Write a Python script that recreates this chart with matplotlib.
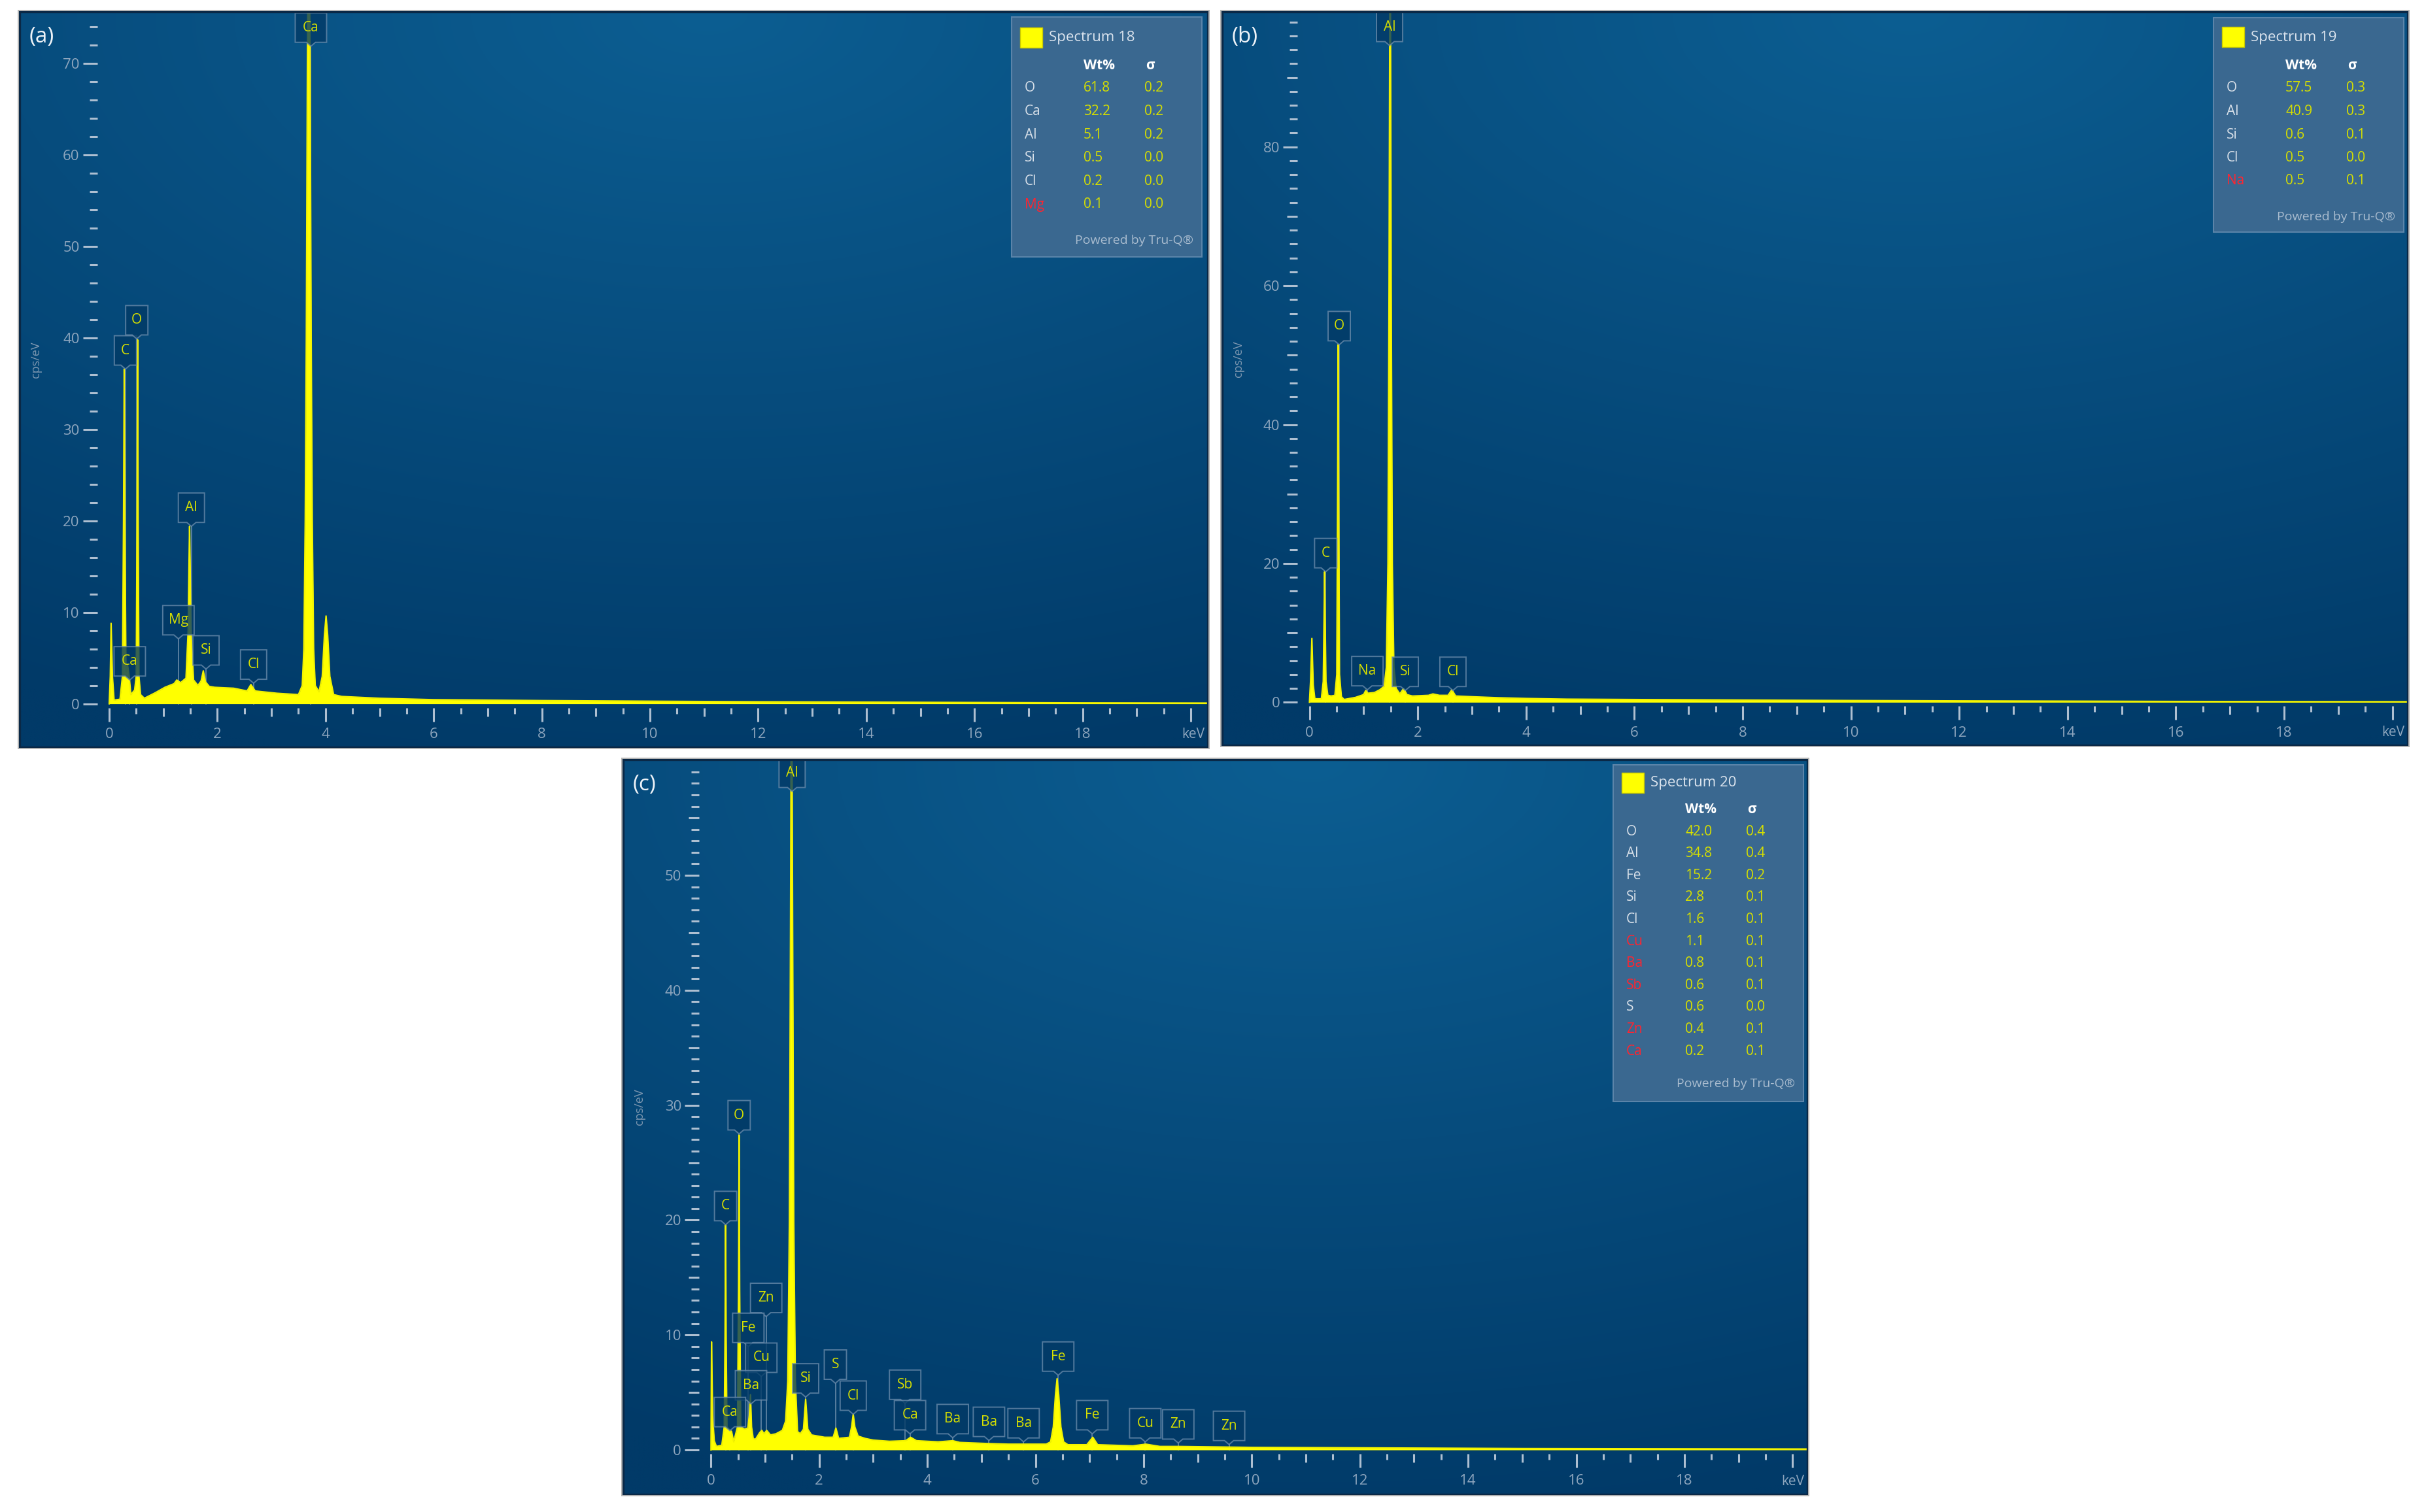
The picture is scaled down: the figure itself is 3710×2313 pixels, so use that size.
import numpy as np
import matplotlib
matplotlib.use('Agg')
import matplotlib.pyplot as plt
import matplotlib.transforms as mtransforms
from matplotlib.patches import Rectangle, Polygon
from matplotlib.ticker import FixedLocator, FuncFormatter

plt.rcParams['font.family'] = ['Open Sans', 'DejaVu Sans']

W, H = 3710, 2313

# ---- spectrum 18 (a) ----
KEV_18 = [0.00, 0.02, 0.035, 0.06, 0.09, 0.20, 0.245, 0.265, 0.278, 0.29, 0.31, 0.34, 0.37, 0.40,
          0.47, 0.50, 0.515, 0.525, 0.535, 0.55, 0.58, 0.65, 0.85, 1.03, 1.20, 1.25, 1.32, 1.42,
          1.46, 1.475, 1.486, 1.497, 1.51, 1.56, 1.64, 1.70, 1.74, 1.78, 1.85, 1.95, 2.30, 2.55,
          2.62, 2.70, 3.10, 3.50, 3.57, 3.60, 3.625, 3.645, 3.665, 3.69, 3.715, 3.735, 3.755, 3.78,
          3.81, 3.88, 3.94, 3.98, 4.01, 4.04, 4.08, 4.15, 4.30, 5.0, 6.0, 7.0, 8.0, 10.0, 12.0,
          14.0, 16.0, 18.0, 20.3]
CPS_18 = [0.0, 3.0, 8.8, 3.0, 0.4, 0.5, 3.0, 20.0, 36.6, 20.0, 3.5, 4.2, 3.0, 1.0,
          1.5, 3.0, 20.0, 39.8, 20.0, 3.0, 1.0, 0.6, 1.2, 1.8, 2.2, 2.6, 2.3, 2.8,
          8.0, 15.0, 19.4, 15.0, 8.0, 2.6, 2.0, 2.5, 3.6, 2.4, 1.9, 1.8, 1.7, 1.4,
          2.1, 1.4, 1.15, 1.0, 2.0, 6.0, 20.0, 40.0, 70.0, 90.0, 70.0, 40.0, 20.0, 6.0,
          2.0, 1.3, 3.0, 7.5, 9.6, 7.5, 3.0, 1.0, 0.8, 0.6, 0.45, 0.4, 0.35, 0.28, 0.22,
          0.18, 0.14, 0.1, 0.08]
PK_18 = ['Ca', 'C', 'O', 'Ca', 'Mg', 'Al', 'Si', 'Cl']
PK_KEV_18 = [3.73, 0.30, 0.51, 0.38, 1.28, 1.52, 1.79, 2.67]
PK_CPS_18 = [71.9, 36.6, 39.9, 2.6, 7.1, 19.4, 3.8, 2.25]
ELEM_18 = ['O', 'Ca', 'Al', 'Si', 'Cl', 'Mg']
WT_18 = [61.8, 32.2, 5.1, 0.5, 0.2, 0.1]
SIG_18 = [0.2, 0.2, 0.2, 0.0, 0.0, 0.0]
RED_18 = ['Mg']

# ---- spectrum 19 (b) ----
KEV_19 = [0.00, 0.02, 0.045, 0.07, 0.10, 0.22, 0.255, 0.27, 0.28, 0.29, 0.305, 0.34, 0.40, 0.47,
          0.505, 0.52, 0.53, 0.54, 0.555, 0.59, 0.64, 0.85, 1.00, 1.04, 1.08, 1.20, 1.30, 1.38,
          1.42, 1.45, 1.47, 1.49, 1.51, 1.53, 1.56, 1.60, 1.67, 1.74, 1.80, 1.90, 2.20, 2.28,
          2.40, 2.56, 2.63, 2.70, 3.00, 3.50, 4.00, 4.75, 6.0, 8.0, 10.0, 12.0, 14.0, 16.0,
          18.0, 20.3]
CPS_19 = [0.0, 3.0, 9.2, 2.5, 0.5, 0.5, 3.0, 12.0, 18.8, 12.0, 3.0, 1.0, 0.9, 1.0,
          4.0, 30.0, 51.5, 30.0, 4.0, 0.8, 0.4, 0.7, 1.1, 1.7, 1.3, 1.4, 1.8, 2.3,
          5.0, 20.0, 60.0, 120.0, 60.0, 20.0, 5.0, 2.0, 1.2, 2.0, 1.1, 0.9, 1.0, 1.2,
          1.0, 1.0, 1.8, 0.9, 0.8, 0.65, 0.55, 0.45, 0.4, 0.32, 0.25, 0.2, 0.16, 0.12,
          0.1, 0.08]
PK_19 = ['Al', 'O', 'C', 'Na', 'Si', 'Cl']
PK_KEV_19 = [1.48, 0.55, 0.30, 1.07, 1.77, 2.65]
PK_CPS_19 = [94.6, 51.5, 18.8, 1.8, 1.7, 1.7]
ELEM_19 = ['O', 'Al', 'Si', 'Cl', 'Na']
WT_19 = [57.5, 40.9, 0.6, 0.5, 0.5]
SIG_19 = [0.3, 0.3, 0.1, 0.0, 0.1]
RED_19 = ['Na']

# ---- spectrum 20 (c) ----
KEV_20 = [0.00, 0.01, 0.03, 0.06, 0.10, 0.20,
          0.245, 0.26, 0.27, 0.28, 0.295,
          0.33, 0.38, 0.42,
          0.49, 0.51, 0.52, 0.53, 0.55,
          0.62, 0.68, 0.71, 0.73, 0.75, 0.78, 0.82,
          0.90, 0.94, 0.98, 1.03, 1.10, 1.20, 1.32,
          1.38, 1.42, 1.45, 1.47, 1.49, 1.51, 1.53, 1.56, 1.60,
          1.65, 1.71, 1.75, 1.79, 1.86,
          2.10, 2.26, 2.31, 2.36,
          2.56, 2.60, 2.63, 2.66, 2.72,
          2.85, 3.00, 3.30, 3.60, 3.69, 3.80,
          4.20, 4.47, 4.60, 5.14, 5.50,
          6.20, 6.28, 6.33, 6.37, 6.40, 6.43, 6.47, 6.52, 6.60,
          6.95, 7.06, 7.15,
          7.80, 8.04, 8.30, 8.64,
          10.0, 12.0, 15.0, 20.3]
CPS_20 = [0.0, 9.4, 3.0, 0.8, 0.3, 0.4,
          2.0, 10.0, 19.6, 10.0, 2.0,
          1.8, 1.6, 0.7,
          2.0, 14.0, 27.4, 14.0, 2.0,
          1.8, 1.9, 3.0, 4.8, 2.0, 1.0, 0.9,
          1.5, 1.7, 1.4, 1.7, 1.3, 1.4, 1.7,
          2.5, 6.0, 20.0, 45.0, 75.0, 45.0, 20.0, 6.0, 1.6,
          1.4, 1.8, 4.4, 1.8, 1.3,
          1.1, 1.1, 1.9, 1.0,
          1.1, 2.0, 3.1, 2.0, 1.2,
          1.0, 0.85, 0.75, 0.8, 1.1, 0.8,
          0.7, 0.8, 0.65, 0.55, 0.5,
          0.5, 0.7, 2.0, 4.8, 6.2, 4.8, 2.0, 0.7, 0.45,
          0.45, 1.1, 0.45,
          0.35, 0.5, 0.3, 0.3,
          0.22, 0.18, 0.12, 0.08]
PK_20 = ['Al', 'O', 'C', 'Zn', 'Fe', 'Cu', 'Ba', 'Ca', 'Si', 'S', 'Cl', 'Sb', 'Ca',
         'Ba', 'Ba', 'Ba', 'Fe', 'Fe', 'Cu', 'Zn', 'Zn']
PK_KEV_20 = [1.50, 0.52, 0.27, 1.02, 0.69, 0.93, 0.74, 0.35, 1.75, 2.30, 2.63, 3.59, 3.68,
             4.47, 5.14, 5.78, 6.42, 7.05, 8.03, 8.64, 9.58]
PK_CPS_20 = [57.3, 27.5, 19.6, 11.6, 9.0, 6.4, 4.0, 1.67, 4.6, 5.8, 3.1, 4.05, 1.4,
             1.06, 0.82, 0.7, 6.5, 1.4, 0.7, 0.6, 0.47]
ELEM_20 = ['O', 'Al', 'Fe', 'Si', 'Cl', 'Cu', 'Ba', 'Sb', 'S', 'Zn', 'Ca']
WT_20 = [42.0, 34.8, 15.2, 2.8, 1.6, 1.1, 0.8, 0.6, 0.6, 0.4, 0.2]
SIG_20 = [0.4, 0.4, 0.2, 0.1, 0.1, 0.1, 0.1, 0.1, 0.0, 0.1, 0.1]
RED_20 = ['Cu', 'Ba', 'Sb', 'Zn', 'Ca']

YELLOW = '#ffff00'
LABEL_YEL = '#d6df00'
TICK_C = '#aebfd1'
TICKLBL_C = '#8ea6be'

fig = plt.figure(figsize=(W / 100, H / 100), dpi=100)
fig.patch.set_facecolor('white')


def fx(px):
    return px / W


def fy(py):
    return 1 - py / H


def background(ax):
    yy, xx = np.mgrid[0:1:240j, 0:1:400j]
    d = np.sqrt((xx - 0.58) ** 2 + (1.15 * (yy - 1.0)) ** 2)
    t = np.clip(d / 1.2, 0, 1)[..., None]
    light = np.array([12, 94, 146]) / 255
    dark = np.array([1, 58, 104]) / 255
    ax.imshow(light + (dark - light) * t, extent=[0, 1, 0, 1], transform=ax.transAxes,
              origin='lower', aspect='auto', interpolation='bilinear', zorder=0)


def set_ticks(axis, hi, minor, mid, major, lab_max, mid_len):
    locs = np.arange(0, hi + 1e-6, mid)
    axis.set_major_locator(FixedLocator(locs))
    axis.set_minor_locator(FixedLocator(np.arange(0, hi + 1e-6, minor)))

    def fmt(v, pos):
        if abs(v / major - round(v / major)) < 1e-6 and v <= lab_max + 1e-6:
            return '%d' % round(v)
        return ''
    axis.set_major_formatter(FuncFormatter(fmt))
    for t, v in zip(axis.get_major_ticks(), locs):
        if abs(v / major - round(v / major)) > 1e-6:
            t.tick1line.set_markersize(mid_len)


def peak_label(ax, name, x, y):
    bw = (20 + sum(6 if c in 'il' else 14 for c in name)) * 0.72
    bh = 45 * 0.72
    ph = 6 * 0.72
    pw = 7 * 0.72
    verts = np.array([(0, 0), (-pw, ph), (-bw / 2, ph), (-bw / 2, ph + bh),
                      (bw / 2, ph + bh), (bw / 2, ph), (pw, ph)]) / 72
    tr = fig.dpi_scale_trans + mtransforms.ScaledTranslation(x, y, ax.transData)
    ax.add_patch(Polygon(verts, closed=True, transform=tr, facecolor='#023a66',
                         edgecolor='#6a8bab', lw=1.4, alpha=0.78, zorder=5))
    ax.annotate(name, xy=(x, y), xytext=(0, ph + bh / 2), textcoords='offset points',
                ha='center', va='center', color=LABEL_YEL, fontsize=15, zorder=6)
    ax.plot([x, x], [0, y], color='#7f9bb6', lw=1.2, alpha=0.8, zorder=2)


def legend_box(left, top, w, h, title, elems, wts, sigs, red, title_y, head_y, row0, dy, pw_y):
    fig.add_artist(Rectangle((fx(left), fy(top + h)), w / W, h / H, transform=fig.transFigure,
                             facecolor='#3a6890', edgecolor='#5b84a9', lw=1.5, zorder=10))
    fig.add_artist(Rectangle((fx(left + 13), fy(top + title_y + 15)), 34 / W, 31 / H,
                             transform=fig.transFigure, facecolor=YELLOW,
                             edgecolor='#c9c900', lw=1, zorder=11))
    fig.text(fx(left + 57), fy(top + title_y), title, ha='left', va='center',
             color='#dbe4ee', fontsize=16, zorder=12)
    fig.text(fx(left + 110), fy(top + head_y), 'Wt%', ha='left', va='center',
             color='white', fontsize=15, fontweight='bold', zorder=12)
    fig.text(fx(left + 205), fy(top + head_y), 'σ', ha='left', va='center',
             color='white', fontsize=15, fontweight='bold', zorder=12)
    for i, e in enumerate(elems):
        y = fy(top + row0 + i * dy)
        fig.text(fx(left + 20), y, e, ha='left', va='center', fontsize=15, zorder=12,
                 color='#ff2430' if e in red else '#d8e0e9')
        fig.text(fx(left + 110), y, '%.1f' % wts[i], ha='left', va='center', fontsize=15,
                 color=LABEL_YEL, zorder=12)
        fig.text(fx(left + 203), y, '%.1f' % sigs[i], ha='left', va='center', fontsize=15,
                 color=LABEL_YEL, zorder=12)
    fig.text(fx(left + 278), fy(top + pw_y), 'Powered by Tru-Q®', ha='right', va='center',
             color='#a9bccf', fontsize=14, zorder=12)


def panel(rect, x0, kev_px, y0, cps_px, letter, kev, cps, names, pk_kev, pk_cps, ytick):
    left, top, right, bottom = rect
    ax = fig.add_axes([fx(left), fy(bottom), (right - left) / W, (bottom - top) / H])
    background(ax)
    ax.set_xlim((left - x0) / kev_px, (right - x0) / kev_px)
    ytop = (y0 - top) / cps_px
    ax.set_ylim((y0 - bottom) / cps_px, ytop)
    for s in ax.spines.values():
        s.set_visible(False)
    ax.spines['left'].set_position(('data', -0.22))
    ax.spines['bottom'].set_position(('data', -6 / cps_px))
    ax.tick_params(which='both', direction='out', color=TICK_C, width=2.2,
                   labelcolor=TICKLBL_C, labelsize=16, top=False, right=False)
    ax.tick_params(axis='x', which='major', length=15, pad=7)
    ax.tick_params(axis='x', which='minor', length=6.5)
    ax.tick_params(axis='y', which='major', length=16, pad=3.5)
    ax.tick_params(axis='y', which='minor', length=8.6)
    set_ticks(ax.xaxis, 20, 0.5, 1, 2, 18, 9.4)
    set_ticks(ax.yaxis, ytop - 0.3, ytick[0], ytick[1], ytick[2], ytick[3], 11.5)

    ax.fill_between(kev, cps, 0, color=YELLOW, lw=0, zorder=3)
    ax.plot(kev, cps, color='#f2f200', lw=1.6, zorder=3.5)
    for n, x, y in zip(names, pk_kev, pk_cps):
        peak_label(ax, n, x, y)

    ax.add_patch(Rectangle((0, 0), 1, 1, transform=ax.transAxes, fill=False,
                           edgecolor='#0a2846', lw=2.4, zorder=8, clip_on=False))
    fig.add_artist(Rectangle((fx(left - 2), fy(bottom + 2)), (right - left + 4) / W,
                             (bottom - top + 4) / H, transform=fig.transFigure, fill=False,
                             edgecolor='#b4b4b4', lw=1.4))
    fig.text(fx(left + 15), fy(top + 38), letter, ha='left', va='center',
             color='#eef3f8', fontsize=24, zorder=9)
    fig.text(fx(left + 25), fy(top + 0.473 * (bottom - top)), 'cps/eV', rotation=90,
             ha='center', va='center', color='#7d97b0', fontsize=13, zorder=9)
    fig.text(fx(right - 5), fy(bottom - 20), 'keV', ha='right', va='center',
             color=TICKLBL_C, fontsize=15, zorder=9)
    return ax


if __name__ == "__main__":
    panel((30, 18, 1847, 1143), 167, 82.7, 1076.6, 13.99, '(a)',
          KEV_18, CPS_18, PK_18, PK_KEV_18, PK_CPS_18, (2, 10, 10, 70))
    panel((1869, 18, 3682, 1140), 2002.5, 82.8, 1074.3, 10.62, '(b)',
          KEV_19, CPS_19, PK_19, PK_KEV_19, PK_CPS_19, (2, 10, 20, 80))
    panel((953, 1162, 2764, 2286), 1087.3, 82.7, 2218, 17.58, '(c)',
          KEV_20, CPS_20, PK_20, PK_KEV_20, PK_CPS_20, (1, 5, 10, 50))

    legend_box(1547, 26, 291, 367, 'Spectrum 18', ELEM_18, WT_18, SIG_18, RED_18,
               32, 74, 109, 35.6, 342)
    legend_box(3385, 27, 291, 328, 'Spectrum 19', ELEM_19, WT_19, SIG_19, RED_19,
               30, 74, 108, 35.5, 305)
    legend_box(2467, 1170, 291, 515, 'Spectrum 20', ELEM_20, WT_20, SIG_20, RED_20,
               28, 68, 102, 33.6, 488)

    fig.savefig('out.png', dpi=100, facecolor='white')
